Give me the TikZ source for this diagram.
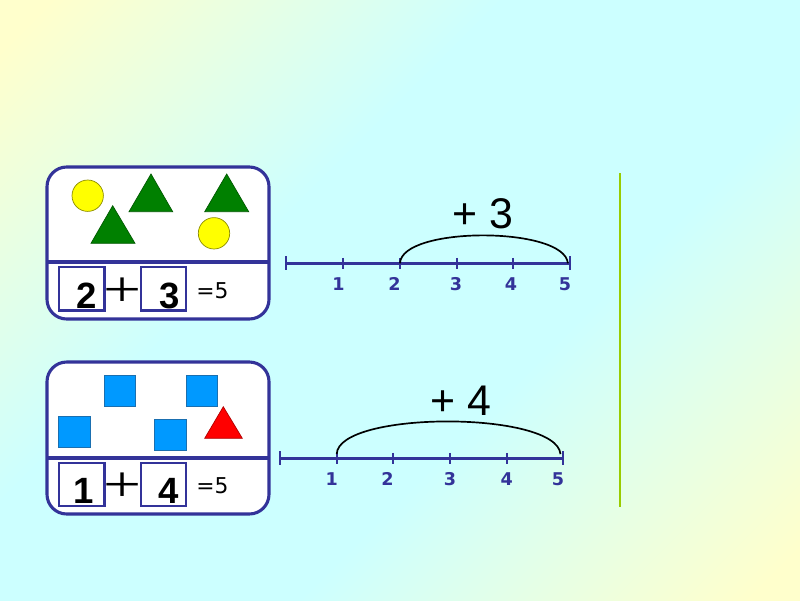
\documentclass[tikz,border=0pt]{standalone}
\usepackage{fontspec}
\setmainfont{Liberation Sans}
\newfontfamily\verdfont{DejaVu Sans}
\newfontfamily\timesfont{Liberation Serif}

\definecolor{bgyellow}{HTML}{FFFFCC}
\definecolor{bgcyan}{HTML}{CCFFFF}
\definecolor{slate}{HTML}{333399}
\definecolor{leaf}{HTML}{99CC00}
\definecolor{grass}{HTML}{008000}
\definecolor{grassdark}{HTML}{005A00}
\definecolor{sunny}{HTML}{FFFF00}
\definecolor{sunnyrim}{HTML}{8C8C00}
\definecolor{sky}{HTML}{0099FF}
\definecolor{skyrim}{HTML}{1A6FB0}
\definecolor{tomato}{HTML}{FF0000}
\definecolor{tomatorim}{HTML}{B00000}

\pgfdeclareverticalshading{bgdiag}{100bp}{color(0bp)=(bgyellow); color(17bp)=(bgyellow); color(40bp)=(bgcyan); color(60bp)=(bgcyan); color(83bp)=(bgyellow); color(100bp)=(bgyellow)}

\tikzset{
  panel/.style={draw=slate, line width=2.2pt, fill=white, rounded corners=14pt},
  divider/.style={draw=slate, line width=2.2pt},
  numbox/.style={draw=slate, line width=1.8pt, minimum width=1.13cm, minimum height=1.08cm, inner sep=0pt},
  boxdigit/.style={anchor=base, inner sep=0pt, font=\fontsize{26}{26}\selectfont\bfseries},
  plusmark/.style={anchor=base, inner sep=0pt, yscale=0.75, font=\timesfont\fontsize{48}{48}\selectfont},
  sumtext/.style={anchor=base west, inner sep=0pt, font=\verdfont\fontsize{15.5}{16}\selectfont},
  ball/.style={draw=sunnyrim, line width=0.5pt, fill=sunny},
  greentri/.style={draw=grassdark, line width=0.5pt, fill=grass},
  bluesq/.style={draw=skyrim, line width=0.5pt, fill=sky},
  redtri/.style={draw=tomatorim, line width=0.5pt, fill=tomato},
  axisline/.style={draw=slate, line width=2.2pt},
  tickmark/.style={draw=slate, line width=1.5pt},
  ticklabel/.style={anchor=base, inner sep=0pt, text=slate, font=\verdfont\bfseries\fontsize{12.5}{13}\selectfont},
  hop/.style={draw=black, line width=1.2pt},
  hoplabel/.style={anchor=base, inner sep=0pt, font=\fontsize{30.5}{31}\selectfont},
  divline/.style={draw=leaf, line width=2.1pt}
}

\begin{document}
\begin{tikzpicture}[x=0.025cm,y=0.025cm]
  % Background
  \shade[shading=bgdiag, shading angle=45] (0,0) rectangle (800,-600);
  \useasboundingbox (0,0) rectangle (800,-600);

  % Top panel: circles and triangles
  \draw[panel] (47,-167) rectangle (269,-319);
  \draw[divider] (47,-262) -- (269,-262);
  \draw[ball] (87.7,-195.7) circle (15.7);
  \draw[ball] (214,-233.3) circle (15.7);
  \draw[greentri] (151,-174) -- (129,-211.7) -- (172.7,-211.7) -- cycle;
  \draw[greentri] (112.7,-205.7) -- (91,-243.3) -- (135,-243.3) -- cycle;
  \draw[greentri] (226.7,-174) -- (204.7,-211.7) -- (248.7,-211.7) -- cycle;

  % Top panel: sum
  \node[numbox] (boxA) at (81.7,-288.7) {};
  \node[numbox] (boxB) at (163.5,-288.7) {};
  \node[boxdigit] (digA) at (86.7,-308.5) {2};
  \node[boxdigit] (digB) at (170,-308.5) {3};
  \node[plusmark] (plusA) at (122.5,-306) {+};
  \node[sumtext] (sumA) at (196,-298) {=5};

  % Bottom panel: squares and triangle
  \draw[panel] (47,-362) rectangle (269,-514);
  \draw[divider] (47,-458) -- (269,-458);
  \draw[bluesq] (104,-375.7) rectangle (135.7,-406.7);
  \draw[bluesq] (186,-375.7) rectangle (217,-406.7);
  \draw[bluesq] (58.3,-416.7) rectangle (90.3,-447.7);
  \draw[bluesq] (154.3,-419.3) rectangle (186,-450.7);
  \draw[redtri] (223.3,-406.7) -- (204.7,-438.3) -- (242.3,-438.3) -- cycle;

  % Bottom panel: sum
  \node[numbox] (boxC) at (81.7,-484.5) {};
  \node[numbox] (boxD) at (163.5,-484.5) {};
  \node[boxdigit] (digC) at (84,-503.5) {1};
  \node[boxdigit] (digD) at (169,-503.5) {4};
  \node[plusmark] (plusB) at (122.5,-501.5) {+};
  \node[sumtext] (sumB) at (196,-493) {=5};

  % Number line one
  \foreach \i/\x in {0/286,1/343.3,2/400,3/456.7,4/513.3,5/570}
    \coordinate (p\i) at (\x,-263.3);
  \draw[axisline] (p0) -- (p5);
  \draw[tickmark] (p0) ++(0,7) -- ++(0,-14);
  \draw[tickmark] (p5) ++(0,7) -- ++(0,-14);
  \foreach \i in {1,...,4}
    \draw[tickmark] (p\i) ++(0,5.5) -- ++(0,-11);
  \foreach \i/\x in {1/338.5,2/394.5,3/456,4/511,5/565}
    \node[ticklabel] (lp\i) at (\x,-290.5) {\i};
  \draw[hop] (p2) to[out=88, in=95, looseness=0.57] ([xshift=-1.5pt]p5);
  \node[hoplabel] (jumpA) at (482.5,-228) {+ 3};

  % Number line two
  \foreach \i/\x in {0/280,1/336.7,2/393.3,3/450,4/506.7,5/563.3}
    \coordinate (q\i) at (\x,-458.3);
  \draw[axisline] (q0) -- (q5);
  \draw[tickmark] (q0) ++(0,7) -- ++(0,-14);
  \draw[tickmark] (q5) ++(0,7) -- ++(0,-14);
  \foreach \i in {1,...,4}
    \draw[tickmark] (q\i) ++(0,5.5) -- ++(0,-11);
  \foreach \i/\x in {1/331.7,2/387.5,3/450,4/506.7,5/558}
    \node[ticklabel] (lq\i) at (\x,-485.5) {\i};
  \draw[hop] ([yshift=3pt]q1) to[out=88, in=95, looseness=0.5] ([xshift=-2pt,yshift=3pt]q5);
  \node[hoplabel] (jumpB) at (460.5,-415) {+ 4};

  % Divider on the right
  \draw[divline] (620,-173) -- (620,-507);
\end{tikzpicture}
\end{document}
